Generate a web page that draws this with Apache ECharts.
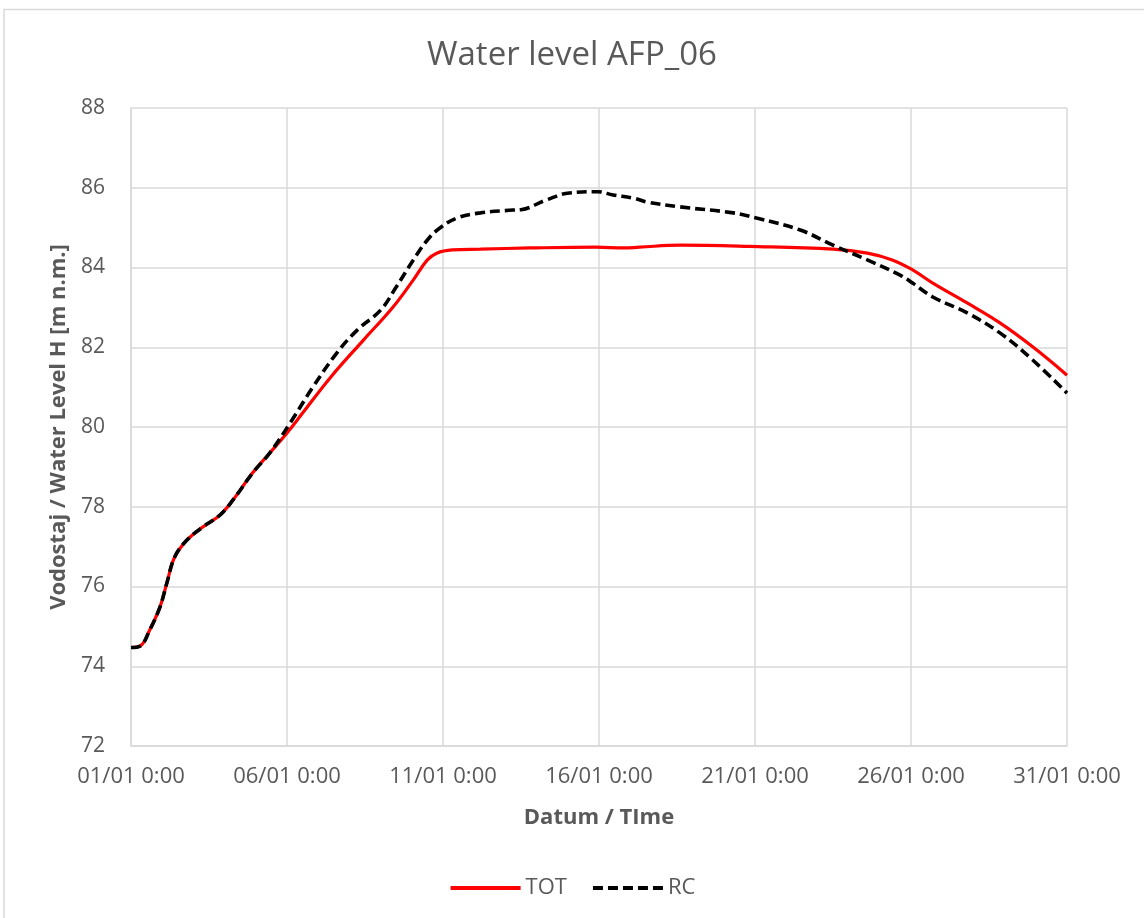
<!DOCTYPE html>
<html>
<head>
<meta charset="utf-8">
<script src="https://cdn.jsdelivr.net/npm/echarts@6/dist/echarts.min.js"></script>
<style>
  html, body { margin: 0; padding: 0; background: #ffffff; }
  #chart { width: 1144px; height: 918px; }
</style>
</head>
<body>
<div id="chart"></div>
<script>
// Time in days since 01/01 0:00, water level in m n.m.
const totDays = [0, 0.3, 0.6, 0.93, 1.15, 1.4, 1.8, 2.3, 2.85, 3.27, 3.9, 4.45, 5.0, 5.5, 6.4, 7.45, 8.4, 9.05, 9.5, 9.8, 10.3, 11.2, 12.8, 14.9, 15.8, 16.3, 17.6, 19.8, 22.5, 23.6, 24.4, 25.05, 25.7, 26.8, 27.85, 28.9, 30];
const totLevels = [74.47, 74.51, 74.91, 75.49, 76.09, 76.74, 77.17, 77.49, 77.79, 78.17, 78.85, 79.35, 79.85, 80.35, 81.25, 82.18, 83.01, 83.69, 84.19, 84.36, 84.44, 84.46, 84.49, 84.51, 84.49, 84.51, 84.56, 84.53, 84.46, 84.36, 84.19, 83.94, 83.61, 83.11, 82.61, 82.01, 81.30];

const rcDays = [0, 0.3, 0.6, 0.93, 1.15, 1.4, 1.8, 2.3, 2.85, 3.27, 3.9, 4.45, 5.1, 5.83, 6.6, 7.25, 8.0, 8.5, 9.05, 9.5, 9.9, 10.45, 11.2, 12.25, 12.5, 13.3, 14.05, 14.95, 15.45, 16.1, 16.55, 17.6, 19.3, 20.05, 21.45, 22.5, 23.6, 24.65, 25.05, 25.7, 26.8, 27.85, 28.9, 30];
const rcLevels = [74.47, 74.51, 74.91, 75.49, 76.09, 76.74, 77.17, 77.49, 77.79, 78.17, 78.85, 79.35, 80.10, 81.00, 81.86, 82.43, 82.93, 83.51, 84.19, 84.69, 84.99, 85.24, 85.37, 85.44, 85.45, 85.69, 85.87, 85.90, 85.82, 85.74, 85.64, 85.52, 85.37, 85.24, 84.94, 84.56, 84.19, 83.81, 83.61, 83.26, 82.86, 82.36, 81.68, 80.85];

const xTickLabels = ['01/01 0:00', '06/01 0:00', '11/01 0:00', '16/01 0:00', '21/01 0:00', '26/01 0:00', '31/01 0:00'];

const textColor = '#595959';
const gridColor = '#d9d9d9';
const fontFamily = '"Open Sans", "Liberation Sans", sans-serif';

const pairs = (xs, ys) => xs.map((x, i) => [x, ys[i]]);

const chart = echarts.init(document.getElementById('chart'), null, { renderer: 'canvas' });
chart.setOption({
  backgroundColor: '#ffffff',
  animation: false,
  textStyle: { fontFamily: fontFamily, color: textColor },
  graphic: [{
    type: 'polyline',
    shape: { points: [[4, 918], [4, 9.5], [1144, 9.5]] },
    style: { stroke: gridColor, lineWidth: 1.5, fill: null }
  }],
  title: {
    text: 'Water level AFP_06',
    left: 'center',
    top: 34,
    textStyle: { fontFamily: fontFamily, fontSize: 33, fontWeight: 'normal', color: textColor }
  },
  grid: { left: 131, right: 77, top: 108, bottom: 172, containLabel: false },
  xAxis: {
    type: 'value',
    min: 0,
    max: 30,
    interval: 5,
    name: 'Datum / TIme',
    nameLocation: 'middle',
    nameGap: 61,
    nameTextStyle: { fontFamily: fontFamily, fontSize: 22, fontWeight: 'bold', color: textColor },
    axisLine: { show: true, lineStyle: { color: gridColor, width: 1.5 } },
    axisTick: { show: false },
    axisLabel: {
      margin: 20,
      fontSize: 22,
      color: textColor,
      fontFamily: fontFamily,
      formatter: v => xTickLabels[Math.round(v / 5)]
    },
    splitLine: { show: true, lineStyle: { color: gridColor, width: 1.5 } }
  },
  yAxis: {
    type: 'value',
    min: 72,
    max: 88,
    interval: 2,
    name: 'Vodostaj / Water Level H [m n.m.]',
    nameLocation: 'middle',
    nameGap: 58,
    nameTextStyle: { fontFamily: fontFamily, fontSize: 22, fontWeight: 'bold', color: textColor },
    axisLine: { show: true, lineStyle: { color: gridColor, width: 1.5 } },
    axisTick: { show: false },
    axisLabel: { margin: 26, fontSize: 21, color: textColor, fontFamily: fontFamily },
    splitLine: { show: true, lineStyle: { color: gridColor, width: 1.5 } }
  },
  legend: {
    bottom: 14,
    left: 'center',
    itemWidth: 70,
    itemHeight: 14,
    itemGap: 24,
    itemStyle: { opacity: 0 },
    lineStyle: { width: 4 },
    textStyle: { fontFamily: fontFamily, fontSize: 22, color: textColor },
    data: ['TOT', 'RC']
  },
  series: [
    {
      name: 'TOT',
      type: 'line',
      data: pairs(totDays, totLevels),
      smooth: 0.4,
      showSymbol: false,
      symbol: 'none',
      lineStyle: { color: '#ff0000', width: 3.2 },
      itemStyle: { color: '#ff0000' },
      z: 2
    },
    {
      name: 'RC',
      type: 'line',
      data: pairs(rcDays, rcLevels),
      smooth: 0.4,
      showSymbol: false,
      symbol: 'none',
      lineStyle: { color: '#000000', width: 3.6, type: [10, 5] },
      itemStyle: { color: '#000000' },
      z: 3
    }
  ]
});
</script>
</body>
</html>
